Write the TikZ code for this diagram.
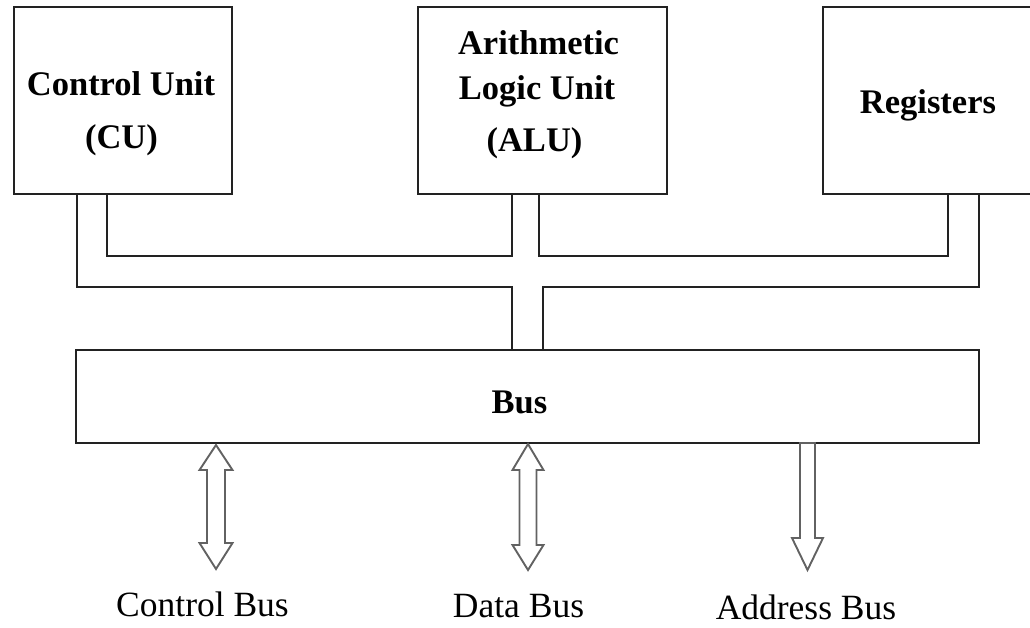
\documentclass[tikz,border=0pt]{standalone}
\usepackage{fontspec}
\setmainfont{Liberation Serif}
\usetikzlibrary{calc}
\definecolor{wire}{HTML}{222222}
\definecolor{arrowgray}{HTML}{626262}
\begin{document}
\begin{tikzpicture}[x=1pt,y=-1pt,
  unitbox/.style={draw=wire,line width=1.8pt,rectangle,inner sep=0pt,outer sep=0pt},
  wireline/.style={draw=wire,line width=1.5pt},
  boldlbl/.style={anchor=base,inner sep=0pt,font=\fontsize{34.5}{40}\selectfont\bfseries},
  buslbl/.style={anchor=base,inner sep=0pt,font=\fontsize{35.5}{40}\selectfont},
  busarrow/.style={draw=arrowgray,line width=1.9pt,fill=white,line join=miter}]
\useasboundingbox (0,0) rectangle (1030,627);
% boxes
\node[unitbox,minimum width=218pt,minimum height=187pt] (cu) at (123,100.5) {};
\node[unitbox,minimum width=249pt,minimum height=187pt] (alu) at (542.5,100.5) {};
\node[unitbox,minimum width=212pt,minimum height=187pt] (reg) at (929,100.5) {};
\node[unitbox,minimum width=903pt,minimum height=93pt] (bus) at (527.5,396.5) {};
% box texts
\node[boldlbl] (cu1) at (121,95) {Control Unit};
\node[boldlbl] (cu2) at (121.5,148.5) {(CU)};
\node[boldlbl] (alu1) at (538.5,54.5) {Arithmetic};
\node[boldlbl] (alu2) at (537,99.5) {Logic Unit};
\node[boldlbl] (alu3) at (534.5,151.5) {(ALU)};
\node[boldlbl] (regt) at (928,113) {Registers};
\node[boldlbl] (bust) at (519.5,413) {Bus};
% wires
\draw[wireline] (107,0 |- cu.south) -- (107,256) -| (512,0 |- alu.south);
\draw[wireline] (539,0 |- alu.south) -- (539,256) -| (948,0 |- reg.south);
\draw[wireline] (77,0 |- cu.south) -- (77,287) -| (512,0 |- bus.north);
\draw[wireline] (543,0 |- bus.north) -- (543,287) -| (979,0 |- reg.south);
% bus arrows
\coordinate (cbtop) at (216,0 |- bus.south);
\coordinate (dbtop) at (528,0 |- bus.south);
\coordinate (abtop) at (807.5,0 |- bus.south);
\draw[busarrow] ($(cbtop)+(0,2)$) -- ++(16.5,25) -- ++(-7.5,0) -- ++(0,73) -- ++(7.5,0)
  -- ++(-16.5,26) -- ++(-16.5,-26) -- ++(7.5,0) -- ++(0,-73) -- ++(-7.5,0) -- cycle;
\draw[busarrow] ($(dbtop)+(0,1)$) -- ++(15.5,26) -- ++(-7,0) -- ++(0,75) -- ++(7,0)
  -- ++(-15.5,25) -- ++(-15.5,-25) -- ++(7,0) -- ++(0,-75) -- ++(-7,0) -- cycle;
\draw[busarrow] ($(abtop)+(-7.5,0)$) -- ++(15,0) -- ++(0,95) -- ++(8,0)
  -- ++(-15.5,32) -- ++(-15.5,-32) -- ++(8,0) -- cycle;
% bus labels
\node[buslbl] (cbl) at (202.5,616) {Control Bus};
\node[buslbl] (dbl) at (518.5,617) {Data Bus};
\node[buslbl] (abl) at (806,619.5) {Address Bus};
\end{tikzpicture}
\end{document}
